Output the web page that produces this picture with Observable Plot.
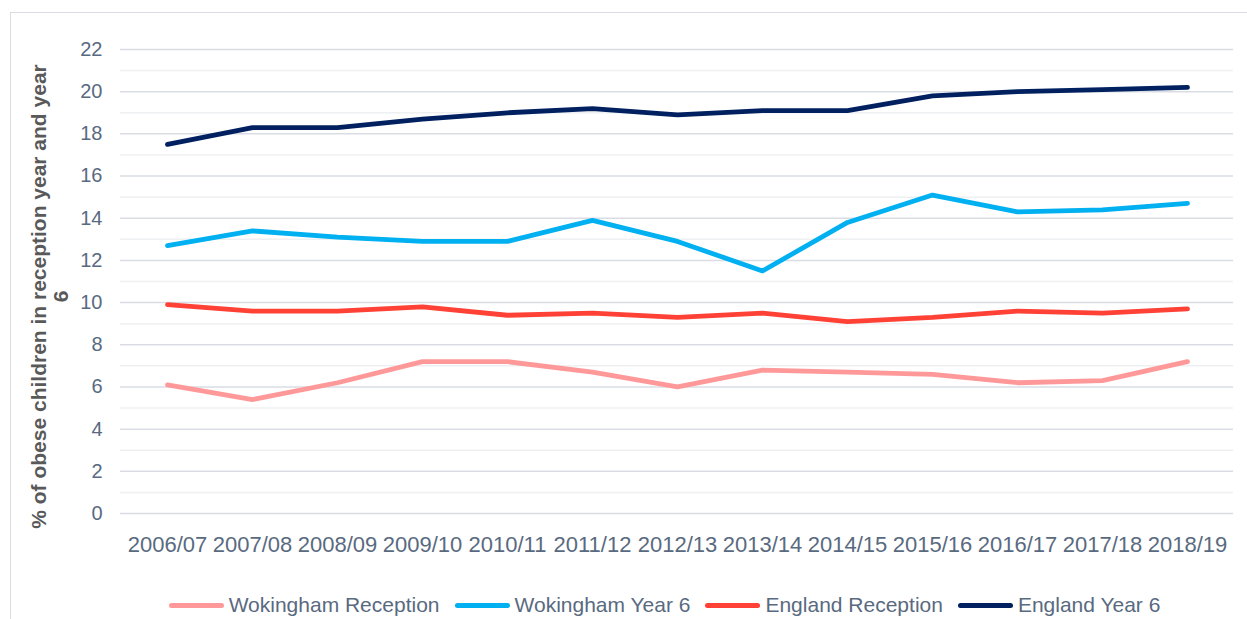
<!DOCTYPE html>
<html><head><meta charset="utf-8">
<script src="https://cdn.jsdelivr.net/npm/d3@7"></script>
<script src="https://cdn.jsdelivr.net/npm/@observablehq/plot@0.6"></script>
<style>
body{margin:0;background:#fff;font-family:"Liberation Sans",Arial,sans-serif;}
#wrap{position:relative;width:1247px;height:619px;overflow:hidden;}
#frame{position:absolute;left:10px;top:12px;width:1250px;height:620px;border:1px solid #d9dde3;box-sizing:border-box;}
#chart{position:absolute;left:0;top:0;}
#legend{position:absolute;top:593px;left:108px;width:1113px;display:flex;justify-content:center;gap:15px;font-size:21px;line-height:24px;color:#596a80;}
.item{display:flex;align-items:center;}
.sw{display:inline-block;width:55px;height:5px;border-radius:3px;margin-right:5px;}
</style></head>
<body><div id="wrap"><div id="frame"></div><div id="chart"></div><div id="legend"></div></div>
<script>
const years = ["2006/07","2007/08","2008/09","2009/10","2010/11","2011/12","2012/13","2013/14","2014/15","2015/16","2016/17","2017/18","2018/19"];
const wokinghamReception = [6.1,5.4,6.2,7.2,7.2,6.7,6.0,6.8,6.7,6.6,6.2,6.3,7.2];
const wokinghamYear6 = [12.7,13.4,13.1,12.9,12.9,13.9,12.9,11.5,13.8,15.1,14.3,14.4,14.7];
const englandReception = [9.9,9.6,9.6,9.8,9.4,9.5,9.3,9.5,9.1,9.3,9.6,9.5,9.7];
const englandYear6 = [17.5,18.3,18.3,18.7,19.0,19.2,18.9,19.1,19.1,19.8,20.0,20.1,20.2];
const seriesNames = ["Wokingham Reception","Wokingham Year 6","England Reception","England Year 6"];
const seriesColors = ["#ff9999","#00b0f0","#ff4136","#002060"];
const majorTicks = [0,2,4,6,8,10,12,14,16,18,20,22];
const minorTicks = [1,3,5,7,9,11,13,15,17,19,21];
const yLabel = "% of obese children in reception year and year\n6";

const seriesValues = [wokinghamReception, wokinghamYear6, englandReception, englandYear6];
const data = seriesNames.flatMap((s,i)=>years.map((y,j)=>({series:s, year:y, value:seriesValues[i][j]})));

const chart = Plot.plot({
  width:1247, height:580,
  marginLeft:120, marginRight:14, marginTop:49, marginBottom:67,
  style:{fontFamily:"Liberation Sans, Arial, sans-serif", background:"transparent"},
  x:{type:"point", domain:years, padding:0.5},
  y:{domain:[0,22]},
  color:{domain:seriesNames, range:seriesColors},
  marks:[
    Plot.ruleY(minorTicks,{stroke:"#eef0f2", strokeWidth:1.5}),
    Plot.ruleY(majorTicks,{stroke:"#d9dde3", strokeWidth:1.5}),
    Plot.axisY({ticks:majorTicks, tickSize:0, tickPadding:18, fontSize:20, fill:"#596a80", label:null}),
    Plot.axisX({tickSize:0, tickPadding:23, fontSize:22, fill:"#596a80", label:null}),
    Plot.line(data,{x:"year", y:"value", z:"series", stroke:"series", strokeWidth:4.8, strokeLinecap:"round", strokeLinejoin:"round", curve:"linear"}),
    Plot.text([yLabel],{frameAnchor:"left", dx:-71, dy:15, rotate:-90, fontSize:21, lineHeight:1.05, fontWeight:"bold", fill:"#595959", textAnchor:"middle", lineAnchor:"middle"})
  ]
});
document.getElementById("chart").appendChild(chart);

const lg = document.getElementById("legend");
seriesNames.forEach((s,i)=>{
  const it=document.createElement("div"); it.className="item";
  const sw=document.createElement("span"); sw.className="sw"; sw.style.background=seriesColors[i];
  const t=document.createElement("span"); t.textContent=s;
  it.appendChild(sw); it.appendChild(t); lg.appendChild(it);
});
</script></body></html>
